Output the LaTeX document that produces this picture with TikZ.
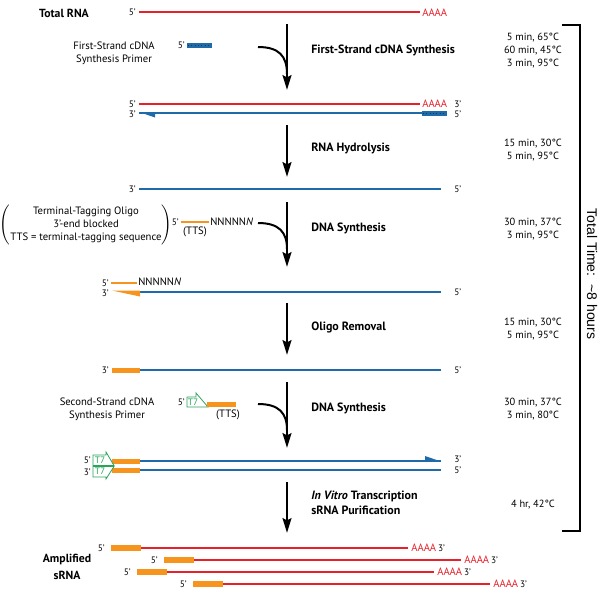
\documentclass[tikz,border=0pt]{standalone}
\usepackage{fontspec}
\setmainfont{PT Sans}
\newfontfamily\arialfont{Liberation Sans}
\usetikzlibrary{arrows.meta}

\definecolor{rnared}{HTML}{E8202A}
\definecolor{dnablue}{HTML}{1F6AA8}
\definecolor{tagorange}{HTML}{F7941D}
\definecolor{promgreen}{HTML}{2BA35B}

\tikzset{
  endlbl/.style={font=\fontsize{7}{8}\selectfont, inner sep=0pt},
  note/.style={font=\fontsize{8}{9.75}\selectfont, align=center, inner sep=0pt},
  stepname/.style={font=\bfseries\fontsize{9}{11.25}\selectfont, anchor=west, align=left, inner sep=0pt},
  cond/.style={font=\fontsize{7.8}{9.75}\selectfont, align=center, inner sep=0pt},
  polya/.style={font=\fontsize{8}{9}\selectfont, text=rnared, anchor=west, inner sep=0pt},
  rna/.style={rnared, line width=0.8pt},
  dna/.style={dnablue, line width=0.8pt},
  tts/.style={tagorange, line width=0.8pt},
  flow/.style={line width=2pt, -{Stealth[length=11pt,width=6.5pt,inset=1.5pt]}},
  feed/.style={line width=1.5pt},
  tseven/.style={promgreen, fill=white, line width=0.6pt},
  tlbl/.style={font=\fontsize{7}{8}\selectfont, text=promgreen, inner sep=0pt}
}

\begin{document}
\begin{tikzpicture}[x=0.75pt,y=-0.75pt]
  \useasboundingbox (0,0) rectangle (604,596);

  % main flow
  \foreach \n/\a/\b in {1/24/90, 2/125/177, 3/202/267, 4/303/355, 5/382/448, 6/482/533} {
    \coordinate (s\n top) at (287,\a);
    \coordinate (s\n bot) at (287,\b);
    \draw[flow] (s\n top) -- (s\n bot);
  }
  \coordinate (in1) at (258,47);  \coordinate (j1) at (287,74);
  \coordinate (in3) at (258,223); \coordinate (j3) at (287,249);
  \coordinate (in5) at (258,404); \coordinate (j5) at (287,430);
  \draw[feed] (in1) .. controls (279,47) and (287,56) .. (j1);
  \draw[feed] (in3) .. controls (279,223) and (287,232) .. (j3);
  \draw[feed] (in5) .. controls (279,404) and (287,413) .. (j5);

  \node[stepname] (st1) at (311,50) {First-Strand cDNA Synthesis};
  \node[stepname] (st2) at (311,148) {RNA Hydrolysis};
  \node[stepname] (st3) at (311,228) {DNA Synthesis};
  \node[stepname] (st4) at (311,327) {Oligo Removal};
  \node[stepname] (st5) at (311,408) {DNA Synthesis};
  \node[stepname] (st6) at (311,503) {\textit{In Vitro} Transcription\\sRNA Purification};

  \node[cond] (c1) at (533,51) {5 min, 65°C\\60 min, 45°C\\3 min, 95°C};
  \node[cond] (c2) at (533,150) {15 min, 30°C\\5 min, 95°C};
  \node[cond] (c3) at (533,229) {30 min, 37°C\\3 min, 95°C};
  \node[cond] (c4) at (533,329) {15 min, 30°C\\5 min, 95°C};
  \node[cond] (c5) at (533,409) {30 min, 37°C\\3 min, 80°C};
  \node[cond] (c6) at (533,505) {4 hr, 42°C};

  % total time bracket
  \coordinate (bk1) at (562,25);
  \coordinate (bk2) at (562,531);
  \draw[line width=1.1pt] (bk1) -- (580,25) -- (580,531) -- (bk2);
  \node[rotate=-90, inner sep=0pt, font=\arialfont\fontsize{10.5}{12}\selectfont] (total) at (592,274) {Total Time:\ \ \textasciitilde 8 hours};

  % total RNA
  \node[font=\bfseries\fontsize{8.8}{10}\selectfont, inner sep=0pt] (totrna) at (64,13) {Total RNA};
  \node[endlbl, anchor=east] (a5) at (136,12) {5'};
  \draw[rna] (139,12) -- (420,12);
  \node[polya] (apa) at (422,13) {AAAA};

  % first-strand primer
  \node[note] (fsp) at (114,53) {First-Strand cDNA\\Synthesis Primer};
  \node[endlbl, anchor=east] (fsp5) at (185,45) {5'};
  \fill[dnablue] (187,43) rectangle (212,47.5);
  \draw[dnablue!55!black, dotted, line width=0.5pt] (188,45.2) -- (211,45.2);

  % hybrid
  \node[endlbl, anchor=east] (b5) at (136,104) {5'};
  \draw[rna] (139,104) -- (420,104);
  \node[polya] (bpa) at (422,104) {AAAA};
  \node[endlbl, anchor=west] (b3r) at (454,104) {3'};
  \node[endlbl, anchor=east] (b3) at (136,114) {3'};
  \draw[dna] (139,113) -- (447,113);
  \fill[dnablue] (139,112) -- (155,112) -- (155,117.5) -- cycle;
  \fill[dnablue] (422,111) rectangle (447,115.5);
  \draw[dnablue!55!black, dotted, line width=0.5pt] (423,113.2) -- (446,113.2);
  \node[endlbl, anchor=west] (b5r) at (454,114) {5'};

  % cDNA
  \node[endlbl, anchor=east] (c3l) at (136,189) {3'};
  \draw[dna] (139,189) -- (441,189);
  \node[endlbl, anchor=west] (c5r) at (454,189) {5'};

  % terminal-tagging oligo
  \node[note] (tto) at (86,225) {$\left(\vcenter{\hbox{\begin{tabular}{@{}c@{}}Terminal-Tagging Oligo\\3'-end blocked\\TTS = terminal-tagging sequence\end{tabular}}}\right)$};
  \node[endlbl, anchor=east] (tto5) at (179,222) {5'};
  \draw[tts] (181,222) -- (209,222);
  \node[note] (ttsa) at (195,232) {(TTS)};
  \node[note, anchor=west] (nna) at (210,222) {NNNNN\textit{N}};

  % tagged cDNA
  \node[endlbl, anchor=east] (d5) at (109,283) {5'};
  \draw[tts] (111,283) -- (137,283);
  \node[note, anchor=west] (nnb) at (138,282) {NNNNN\textit{N}};
  \node[endlbl, anchor=east] (d3) at (109,293) {3'};
  \draw[dna] (140,292) -- (441,292);
  \fill[tagorange] (112,290.5) -- (140,290.5) -- (140,296.5) -- cycle;
  \node[endlbl, anchor=west] (d5r) at (454,292) {5'};

  % after oligo removal
  \node[endlbl, anchor=east] (e3) at (109,370) {3'};
  \fill[tagorange] (112,367.5) rectangle (140,372.5);
  \draw[dna] (140,370) -- (441,370);
  \node[endlbl, anchor=west] (e5r) at (454,370) {5'};

  % second-strand primer
  \node[note] (ssp) at (107,409) {Second-Strand cDNA\\Synthesis Primer};
  \node[endlbl, anchor=east] (ssp5) at (185,402) {5'};
  \draw[tseven] (187,397) -- (196,397) -- (196,393) -- (208,407) -- (187,407) -- cycle;
  \node[tlbl] (t7a) at (193,402) {T7};
  \fill[tagorange] (207,402) rectangle (236,407);
  \node[note] (ttsb) at (228,415) {(TTS)};

  % double-stranded cDNA
  \node[endlbl, anchor=east] (f5) at (91,460) {5'};
  \node[endlbl, anchor=east] (f3) at (91,472) {3'};
  \fill[tagorange] (112,459) rectangle (140,463.5);
  \fill[tagorange] (112,468) rectangle (140,472.5);
  \draw[tseven] (93,455) -- (106,455) -- (106,452) -- (114,465.5) -- (93,465.5) -- cycle;
  \draw[tseven] (93,466.5) -- (114,466.5) -- (106,479) -- (106,477) -- (93,477) -- cycle;
  \node[tlbl] (t7b) at (100,460.5) {T7};
  \node[tlbl] (t7c) at (100,471.5) {T7};
  \draw[dna] (140,461) -- (441,461);
  \fill[dnablue] (425,456) -- (441,461.5) -- (425,461.5) -- cycle;
  \draw[dna] (140,470) -- (441,470);
  \node[endlbl, anchor=west] (f3r) at (454,459) {3'};
  \node[endlbl, anchor=west] (f5r) at (454,470) {5'};

  % amplified sRNA
  \node[font=\bfseries\fontsize{8.8}{12.5}\selectfont, align=center, inner sep=0pt] (amp) at (67,567) {Amplified\\sRNA};
  \foreach \x/\y in {104/548, 157/560, 130/572, 186/584} {
    \node[endlbl, anchor=east] at (\x+1,\y) {5'};
    \fill[tagorange] (\x+7,\y-3) rectangle (\x+37,\y+3);
    \draw[rna] (\x+37,\y) -- (\x+304,\y);
    \node[polya] at (\x+307,\y) {AAAA\,\textcolor{black}{\fontsize{7}{8}\selectfont 3'}};
  }
\end{tikzpicture}
\end{document}
